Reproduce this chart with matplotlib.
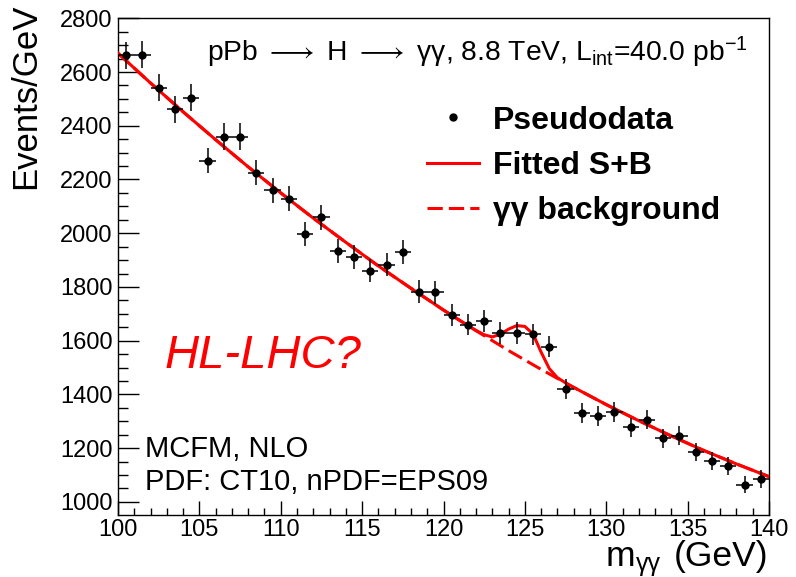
import numpy as np
import matplotlib
matplotlib.use("Agg")
import matplotlib.pyplot as plt
from matplotlib.lines import Line2D
from matplotlib.ticker import MultipleLocator

plt.rcParams['font.family'] = ['Liberation Sans', 'DejaVu Sans']
plt.rcParams['mathtext.fontset'] = 'custom'
plt.rcParams['mathtext.rm'] = 'Liberation Sans'
plt.rcParams['mathtext.it'] = 'Liberation Sans:italic'
plt.rcParams['mathtext.bf'] = 'Liberation Sans:bold'

# Pseudodata: 1 GeV bins from 100 to 140 GeV
bin_centers = np.arange(100.5, 140.0, 1.0)
events = [2662, 2665, 2542, 2461, 2505, 2270, 2360, 2360, 2225, 2159,
          2128, 1998, 2059, 1933, 1911, 1860, 1883, 1930, 1782, 1780,
          1696, 1660, 1673, 1629, 1628, 1623, 1578, 1421, 1330, 1320,
          1334, 1277, 1306, 1236, 1246, 1186, 1153, 1133, 1064, 1084]

# Background-only fit curve
bkg_x = [100, 102, 104, 106, 108, 110, 112, 114, 116, 118, 120,
         122, 124, 126, 128, 130, 132, 134, 136, 138, 140]
bkg_y = [2670, 2559, 2452, 2348, 2247, 2150, 2056, 1966, 1878, 1795, 1714,
         1637, 1563, 1493, 1426, 1362, 1302, 1245, 1191, 1141, 1094]

# Signal + background fit curve
sb_x = [100, 102, 104, 106, 108, 110, 112, 114, 116, 118, 120,
        121.0, 121.5, 122.0, 122.5, 123.0, 123.5, 124.0, 124.5, 125.0,
        125.5, 126.0, 126.5, 127.0, 127.5, 128, 130, 132, 134, 136, 138, 140]
sb_y = [2670, 2559, 2452, 2348, 2247, 2150, 2056, 1966, 1878, 1795, 1714,
        1675, 1656, 1638, 1622, 1614, 1624, 1643, 1656, 1653,
        1625, 1557, 1496, 1462, 1443, 1426, 1362, 1302, 1245, 1191, 1141, 1094]

W, H = 796, 577
fig = plt.figure(figsize=(W / 100, H / 100), dpi=100)
ax = fig.add_axes([118 / W, 1 - 515 / H, 651 / W, 497.5 / H])

red = '#ff0000'
bkg_line, = ax.plot(bkg_x, bkg_y, color=red, lw=2.2, zorder=2)
bkg_line.set_dashes([5, 2])
ax.plot(sb_x, sb_y, color=red, lw=2.2, zorder=3)

errs = np.sqrt(events)
ax.errorbar(bin_centers, events, yerr=errs, xerr=0.5, fmt='o', color='black',
            ms=5, elinewidth=1.1, capsize=0, zorder=4)

ax.set_xlim(100, 140)
ax.set_ylim(951, 2803)
ax.xaxis.set_major_locator(MultipleLocator(5))
ax.xaxis.set_minor_locator(MultipleLocator(1))
ax.yaxis.set_major_locator(MultipleLocator(200))
ax.yaxis.set_minor_locator(MultipleLocator(50))
ax.tick_params(axis='both', which='both', direction='in', top=False, right=False,
               labelsize=17, width=1.0, color='black')
ax.tick_params(axis='y', which='major', length=15, pad=4)
ax.tick_params(axis='y', which='minor', length=7.5)
ax.tick_params(axis='x', which='major', length=10, pad=3)
ax.tick_params(axis='x', which='minor', length=5)
for sp in ax.spines.values():
    sp.set_linewidth(1.0)

# x-axis title built from pieces so the subscript stays inside the canvas
renderer = fig.canvas.get_renderer()
px = fig.transFigure.inverted()
base_y = 1 - 566 / H
t_unit = fig.text(768 / W, base_y, '(GeV)', fontsize=25.5, ha='right', va='baseline')
x0 = px.transform(t_unit.get_window_extent(renderer).get_points())[0][0]
t_sub = fig.text(x0 - 12 / W, base_y - 5 / H, '\u03b3\u03b3', fontsize=18,
                 ha='right', va='baseline')
x1 = px.transform(t_sub.get_window_extent(renderer).get_points())[0][0]
fig.text(x1 - 1 / W, base_y, 'm', fontsize=25.5, ha='right', va='baseline')

fig.text(9 / W, 1 - 4 / H, 'Events/GeV', fontsize=25, rotation=90,
         ha='left', va='top')

ax.text(0.137, 0.9126,
        'pPb $\\longrightarrow$ H $\\longrightarrow$ \u03b3\u03b3, 8.8 TeV, L$_{\\mathrm{int}}$=40.0 pb$^{\\mathrm{-1}}$',
        transform=ax.transAxes, fontsize=20.3, va='baseline', ha='left')

ax.text(0.072, 0.295, 'HL-LHC?', transform=ax.transAxes, fontsize=34,
        style='italic', color=red, va='baseline', ha='left')
ax.text(0.0415, 0.1166, 'MCFM, NLO', transform=ax.transAxes, fontsize=21,
        va='baseline', ha='left')
ax.text(0.0415, 0.050, 'PDF: CT10, nPDF=EPS09', transform=ax.transAxes, fontsize=21,
        va='baseline', ha='left')

handles = [
    Line2D([], [], color='black', marker='o', ms=5, ls='none'),
    Line2D([], [], color=red, lw=2.2),
    Line2D([], [], color=red, lw=2.2, dashes=[5, 2]),
]
labels = ['Pseudodata', 'Fitted S+B', '\u03b3\u03b3 background']
leg = ax.legend(handles, labels, loc='upper left', bbox_to_anchor=(0.4747, 0.823),
                frameon=False, fontsize=23, handlelength=1.63, handletextpad=0.44,
                labelspacing=0.48, borderaxespad=0, borderpad=0)
for t in leg.get_texts():
    t.set_fontweight('bold')

fig.savefig('out.png', dpi=100)
